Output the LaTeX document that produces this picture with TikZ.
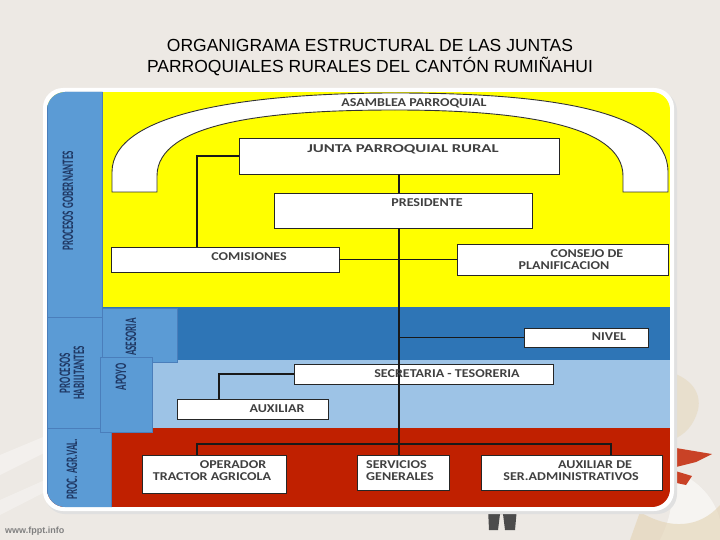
\documentclass[tikz,border=0pt]{standalone}
\usepackage{fontspec}
\setmainfont{Carlito}
\newfontfamily\titlefont{Liberation Sans}
\newfontfamily\boxfont[FakeStretch=1.17]{Carlito}
\newfontfamily\widefont[FakeStretch=1.4]{Carlito}
\newfontfamily\sidefont[FakeStretch=0.57]{Carlito}
\definecolor{bgc}{HTML}{EDE9E4}
\definecolor{yel}{HTML}{FFFF00}
\definecolor{dblue}{HTML}{2E75B6}
\definecolor{lblue}{HTML}{9DC3E6}
\definecolor{redc}{HTML}{C02000}
\definecolor{sblue}{HTML}{5B9BD5}
\definecolor{sbord}{HTML}{4A7EBB}
\definecolor{navy}{HTML}{1F3864}
\definecolor{txtc}{HTML}{404040}
\definecolor{cream}{HTML}{E3D3B3}
\tikzset{
  box/.style={draw=black!85, fill=white, line width=0.9pt, inner sep=0pt},
  btxt/.style={font=\boxfont\bfseries\fontsize{12}{12}\selectfont, text=txtc, inner sep=0pt, align=center},
  side/.style={draw=sbord, line width=0.5pt, fill=sblue},
  stxt/.style={font=\sidefont\bfseries\fontsize{16}{14}\selectfont, text=navy, rotate=90, inner sep=0pt, align=center},
  conn/.style={draw=black!90, line width=1.1pt}
}
\begin{document}
\begin{tikzpicture}[x=1pt,y=-1pt]
\useasboundingbox (0,0) rectangle (720,540);
\fill[bgc] (0,0) rectangle (720,540);
% background decorations
\fill[white, opacity=0.35] (0,455) -- (60,430) -- (60,445) -- (0,475) -- cycle;
\fill[white, opacity=0.3] (0,500) -- (45,480) -- (45,492) -- (0,515) -- cycle;
\fill[cream, opacity=0.45] (670,372) .. controls (690,378) and (702,392) .. (698,410) .. controls (694,425) and (685,435) .. (672,440) -- cycle;
\fill[white, opacity=0.5] (672,470) .. controls (700,480) and (715,500) .. (720,520) -- (720,540) -- (660,540) .. controls (670,520) and (672,505) .. (672,490) -- cycle;
\fill[cream, opacity=0.6] (640,512) .. controls (670,530) and (700,528) .. (720,505) -- (720,540) -- (630,540) -- cycle;
\fill[redc!85] (670,447) -- (712,454) -- (696,462) -- (672,468) -- cycle;
\fill[redc!85] (672,470) -- (692,476) -- (686,485) -- (672,482) -- cycle;
\fill[black!70] (488,508) -- (517,508) -- (515,530) -- (505,530) -- (503,514) -- (500,514) -- (498,530) -- (489,530) -- cycle;
% title
\node[font=\titlefont\fontsize{17.5}{21}\selectfont, align=center, inner sep=0pt] (title) at (370,57.5)
  {ORGANIGRAMA ESTRUCTURAL DE LAS JUNTAS\\PARROQUIALES RURALES DEL CANTÓN RUMIÑAHUI};
\node[font=\titlefont\bfseries\fontsize{9}{9}\selectfont, text=black!50, anchor=west, inner sep=0pt] (web) at (5,531) {www.fppt.info};
% panel frame
\fill[black!12, rounded corners=20pt] (45,91) rectangle (677,514);
\fill[white, rounded corners=20pt] (43,88) rectangle (674,511);
\begin{scope}
\clip[rounded corners=18pt] (47,92) rectangle (670,507);
\fill[yel] (47,92) rectangle (670,307);
\fill[dblue] (47,307) rectangle (670,360);
\fill[lblue] (47,360) rectangle (670,428);
\fill[redc] (47,428) rectangle (670,507);
\filldraw[side] (47,91) rectangle (102,317);
\filldraw[side] (47,317) rectangle (102,428);
\filldraw[side] (47,428) rectangle (111,508);
\filldraw[side] (102,308) rectangle (177,362);
\filldraw[side] (100,357) rectangle (152,432);
\end{scope}
% side labels
\node[stxt] (gob) at (68,201) {PROCESOS GOBERNANTES};
\node[stxt] (hab) at (72,373) {PROCESOS\\HABILITANTES};
\node[stxt] (ase) at (131,337) {ASESORIA};
\node[stxt] (apo) at (121,377) {APOYO};
\node[stxt] (agr) at (72,469) {PROC. AGR.VAL.};
% arch
\path[fill=white, draw=black!80, line width=0.9pt]
  (112,192) -- (112,172) .. controls (112,112) and (250,93) .. (395,93)
  .. controls (540,93) and (668,108) .. (668,172) -- (668,192) -- (623,192) -- (623,176)
  .. controls (623,125) and (520,110) .. (395,110)
  .. controls (270,110) and (157,122) .. (157,176) -- (157,192) -- cycle;
\node[btxt] (asamT) at (414,103) {ASAMBLEA PARROQUIAL};
% boxes
\node[box, minimum width=320pt, minimum height=36pt] (junta) at (399,156) {};
\node[box, minimum width=258pt, minimum height=35pt] (pres) at (403,210.5) {};
\node[box, minimum width=228pt, minimum height=25pt] (comis) at (225,259.5) {};
\node[box, minimum width=211pt, minimum height=31pt] (consejo) at (562.5,259.5) {};
% connectors in the upper area
\draw[conn] (junta.south) -- (junta.south |- pres.north);
\draw[conn] (junta.west) -| ([xshift=-28pt]comis.north);
\draw[conn] (comis.east) -- (consejo.west);
% lower boxes
\node[box, minimum width=124pt, minimum height=19pt] (nivel) at (586,337.5) {};
\node[box, minimum width=259pt, minimum height=20pt] (secre) at (423.5,374) {};
\node[box, minimum width=151pt, minimum height=20pt] (auxil) at (252.5,409) {};
\node[box, minimum width=144pt, minimum height=38pt] (oper) at (214,474) {};
\node[box, minimum width=92pt, minimum height=35pt] (serv) at (403,472.5) {};
\node[box, minimum width=181pt, minimum height=35pt] (auxad) at (571.5,472.5) {};
\coordinate (bus) at (400,444);
\draw[conn] (junta.south |- pres.south) -- (junta.south |- serv.north);
\draw[conn] (junta.south |- nivel.west) -- (nivel.west);
\draw[conn] (secre.west) -| ([xshift=-33.5pt]auxil.north);
\draw[conn] ([xshift=-17pt]oper.north) |- (bus) -| ([xshift=39.5pt]auxad.north);
% texts
\node[btxt, font=\widefont\bfseries\fontsize{12}{12}\selectfont] (juntaT) at (403,149) {JUNTA PARROQUIAL RURAL};
\node[btxt] (presT) at (427,203) {PRESIDENTE};
\node[btxt] (comisT) at (249,257) {COMISIONES};
\node[btxt] (consejoT1) at (587,254) {CONSEJO DE};
\node[btxt] (consejoT2) at (564,266) {PLANIFICACION};
\node[btxt] (nivelT) at (609,337) {NIVEL};
\node[btxt] (secreT) at (447,374) {SECRETARIA - TESORERIA};
\node[btxt] (auxilT) at (277,409) {AUXILIAR};
\node[btxt] (operT1) at (233,465) {OPERADOR};
\node[btxt] (operT2) at (212,477) {TRACTOR AGRICOLA};
\node[btxt, align=left, anchor=west] (servT) at (366,471) {SERVICIOS\\GENERALES};
\node[btxt] (auxadT1) at (595,465) {AUXILIAR DE};
\node[btxt] (auxadT2) at (571,477) {SER.ADMINISTRATIVOS};
\end{tikzpicture}
\end{document}
